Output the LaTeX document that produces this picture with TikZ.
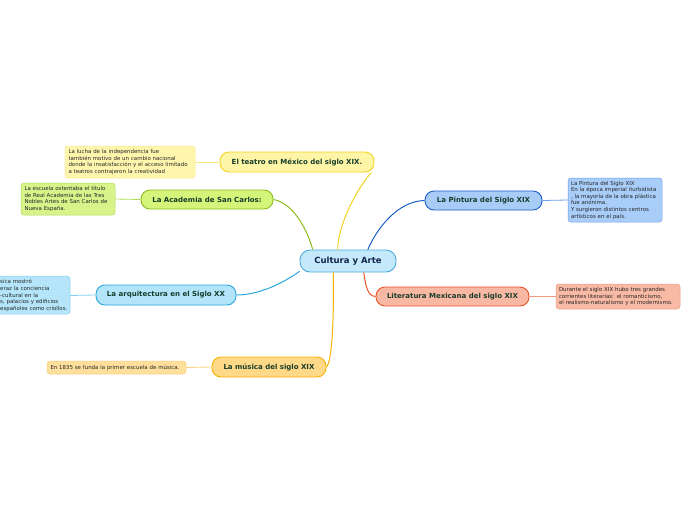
\documentclass[tikz,border=0pt]{standalone}
\usepackage{fontspec}
\setmainfont{DejaVu Sans}
\definecolor{ctrfill}{HTML}{C4E9FB}
\definecolor{ctrdraw}{HTML}{4DA9DC}
\definecolor{ctrtext}{HTML}{12244A}
\definecolor{toptext}{HTML}{173D2A}
\definecolor{yelfill}{HTML}{FFF5A6}
\definecolor{yeldraw}{HTML}{F2D31E}
\definecolor{yelnote}{HTML}{FFF6AE}
\definecolor{yelnotedraw}{HTML}{FBE88A}
\definecolor{grnfill}{HTML}{D5F47A}
\definecolor{grndraw}{HTML}{8CBD1C}
\definecolor{grnnote}{HTML}{D6F48A}
\definecolor{grnnotedraw}{HTML}{B0DC55}
\definecolor{cyafill}{HTML}{B2E4FA}
\definecolor{cyadraw}{HTML}{2BA6DE}
\definecolor{cyanote}{HTML}{B4E5FA}
\definecolor{cyanotedraw}{HTML}{86CFF0}
\definecolor{orafill}{HTML}{FFD888}
\definecolor{oradraw}{HTML}{F4B301}
\definecolor{oranote}{HTML}{FFDF9C}
\definecolor{oranotedraw}{HTML}{F8CF7C}
\definecolor{blufill}{HTML}{A8CCF8}
\definecolor{bludraw}{HTML}{1A5EC6}
\definecolor{blunote}{HTML}{A9CDF9}
\definecolor{blunotedraw}{HTML}{6C9FE6}
\definecolor{redfill}{HTML}{F9B8A3}
\definecolor{reddraw}{HTML}{E8542A}
\definecolor{rednote}{HTML}{F9BAA5}
\definecolor{rednotedraw}{HTML}{EF9A80}
\tikzset{
  topic/.style={rounded corners=9pt, line width=0.9pt, font=\fontsize{7}{8}\selectfont\bfseries,
    text=toptext, minimum height=20pt, inner sep=2pt},
  note/.style={rounded corners=3pt, line width=0.5pt, font=\fontsize{5.45}{6.6}\selectfont,
    text=black!85, align=left, inner sep=0pt},
  conn/.style={line width=1pt},
  nconn/.style={line width=0.8pt}
}
\begin{document}
\begin{tikzpicture}[x=1pt,y=-1pt]
\useasboundingbox (0,0) rectangle (696,520);
\clip (0,0) rectangle (696,520);
% central
\node[rounded corners=10pt, line width=0.9pt, fill=ctrfill, draw=ctrdraw, text=ctrtext,
  font=\fontsize{8.5}{10}\selectfont\bfseries, minimum width=96pt, minimum height=22pt, inner sep=2pt]
  (c) at (348,261) {Cultura y Arte};
% topics
\node[topic, fill=yelfill, draw=yeldraw, minimum width=154pt] (t) at (297,162) {El teatro en México del siglo XIX.};
\node[topic, fill=grnfill, draw=grndraw, minimum width=132pt, minimum height=19pt] (a) at (207,199.5) {La Academia de San Carlos:};
\node[topic, fill=cyafill, draw=cyadraw, minimum width=140pt] (q) at (166,295) {La arquitectura en el Siglo XX};
\node[topic, fill=orafill, draw=oradraw, minimum width=114pt] (m) at (269,367) {La música del siglo XIX};
\node[topic, fill=blufill, draw=bludraw, minimum width=117pt, minimum height=19pt] (p) at (483.5,200.5) {La Pintura del Siglo XIX};
\node[topic, fill=redfill, draw=reddraw, minimum width=153pt, minimum height=19pt] (l) at (452.5,296.5) {Literatura Mexicana del siglo XIX};
% notes
\node[note, fill=yelnote, draw=yelnotedraw, minimum width=130pt, minimum height=32pt, text width=123pt] (tn) at (130,162)
 {La lucha de la independencia fue\\también motivo de un cambio nacional\\donde la insatisfacción y el acceso limitado\\a teatros contrajeron la creatividad};
\node[note, fill=grnnote, draw=grnnotedraw, minimum width=94pt, minimum height=32pt, text width=87pt] (an) at (68,199)
 {La escuela ostentaba el título\\de Real Academia de las Tres\\Nobles Artes de San Carlos de\\Nueva España.};
% architecture note: its box runs off the left edge
\filldraw[rounded corners=3pt, line width=0.5pt, fill=cyanote, draw=cyanotedraw] (-40,276) rectangle (70,314);
\node[note, text width=69.5pt, anchor=east, inner xsep=0pt] (qn) at (70,295.5)
 {\hyphenpenalty=10000 sica mostró\\eraz la conciencia\\-cultural en la\\s, palacios y edificios\\españoles como criollos.};
\node[note, fill=oranote, draw=oranotedraw, minimum width=139pt, minimum height=13pt, text width=132pt] (mn) at (116.5,367.5)
 {En 1835 se funda la primer escuela de música.};
\node[note, fill=blunote, draw=blunotedraw, minimum width=94pt, minimum height=44pt, text width=88pt] (pn) at (615,200)
 {La Pintura del Siglo XIX\\En la época imperial iturbidista\\, la mayoría de la obra plástica\\fue anónima.\\Y surgieron distintos centros\\artísticos en el país.};
\node[note, fill=rednote, draw=rednotedraw, minimum width=124pt, minimum height=25pt, text width=118pt] (ln) at (618,296.5)
 {Durante el siglo XIX hubo tres grandes\\corrientes literarias: el romanticismo,\\el realismo-naturalismo y el modernismo.};
% connectors center to topics
\draw[conn, draw=yeldraw] (c.132) .. controls (338,225) and (356,190) .. (t.-8.5);
\draw[conn, draw=grndraw] (c.162) .. controls (306,226) and (292,203) .. (a.east);
\draw[conn, draw=bludraw] (c.30) .. controls (377,228) and (398,201) .. (p.west);
\draw[conn, draw=cyadraw] (c.192) .. controls (282,284) and (258,295) .. (q.east);
\draw[conn, draw=reddraw] (c.-36) .. controls (366,288) and (368,296) .. (l.west);
\draw[conn, draw=oradraw] (c.218) .. controls (334,320) and (332,362) .. (m.east);
% connectors topics to notes
\draw[nconn, draw=yelnotedraw] (t.west) -- (tn.east);
\draw[nconn, draw=grnnotedraw] (a.west) -- (an.east);
\draw[nconn, draw=cyanotedraw] (q.west) -- (qn.east);
\draw[nconn, draw=oranotedraw] (m.west) -- (mn.east);
\draw[nconn, draw=blunotedraw] (p.east) -- (pn.west);
\draw[nconn, draw=rednotedraw] (l.east) -- (ln.west);
\end{tikzpicture}
\end{document}
